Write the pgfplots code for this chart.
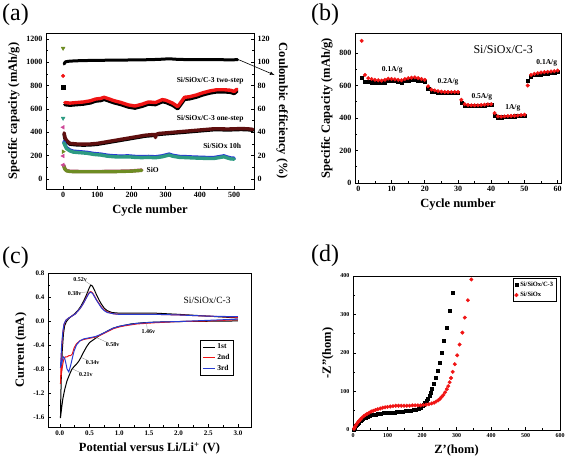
\documentclass[border=0pt]{standalone}
\usepackage{fontspec}
\setmainfont{Liberation Serif}
\usepackage{pgfplots}
\pgfplotsset{compat=1.18}
\definecolor{cred}{RGB}{240,20,20}
\definecolor{cmaroon}{RGB}{95,15,15}
\definecolor{cteal}{RGB}{45,155,130}
\definecolor{colive}{RGB}{110,140,35}
\definecolor{cpink}{RGB}{205,70,150}
\definecolor{cblue}{RGB}{40,60,210}
\pgfplotsset{
  base/.style={scale only axis, anchor=south west,
    axis line style={line width=0.8pt}, tick align=inside,
    major tick length=3pt, minor tick length=1.6pt,
    every tick/.style={black, line width=0.6pt},
    tick label style={font=\bfseries\fontsize{8}{9}\selectfont},
    label style={font=\bfseries\fontsize{12.5}{14}\selectfont},
    /pgf/number format/assume math mode=true,
    /pgf/number format/1000 sep={}, scaled ticks=false,
    xtick pos=bottom, ytick pos=left},
  band/.style={line width=3.4pt, line cap=round, line join=round}
}
\begin{document}
\begin{tikzpicture}[x=1pt,y=1pt]
\useasboundingbox (0pt,0pt) rectangle (567pt,461pt);
% panel labels
\node[anchor=base west, inner sep=0, font=\fontsize{24}{26}\selectfont] at (2pt,440pt) {(a)};
\node[anchor=base west, inner sep=0, font=\fontsize{24}{26}\selectfont] at (311pt,440pt) {(b)};
\node[anchor=base west, inner sep=0, font=\fontsize{24}{26}\selectfont] at (2pt,198pt) {(c)};
\node[anchor=base west, inner sep=0, font=\fontsize{24}{26}\selectfont] at (311pt,200pt) {(d)};

% ---------------- (a) ----------------
\begin{axis}[base, at={(46pt,272pt)}, width=208pt, height=156pt,
  xmin=-50, xmax=558, ymin=-86, ymax=1251,
  xtick={0,100,...,500}, ytick={0,200,...,1200},
  minor x tick num=1, minor y tick num=1,
  xlabel={Cycle number}, ylabel={Specific capacity (mAh/g)}, clip=false]
% two-step: black under red
\addplot[black, band] coordinates {(5,637) (20,632) (40,637) (60,642) (80,652) (95,667) (110,672) (120,682) (130,672) (150,652) (170,637) (190,617) (210,607) (230,622) (250,642) (270,637) (290,662) (300,657) (320,632) (335,602) (345,642) (355,682) (370,687) (390,702) (410,722) (430,737) (450,747) (470,747) (490,742) (500,732) (508,752)};
\addplot[cred, band] coordinates {(5,655) (20,650) (40,655) (60,660) (80,670) (95,685) (110,690) (120,700) (130,690) (150,670) (170,655) (190,635) (210,625) (230,640) (250,660) (270,655) (290,680) (300,675) (320,650) (335,620) (345,660) (355,700) (370,705) (390,720) (410,740) (430,755) (450,765) (470,765) (490,760) (500,750) (508,770)};
% one-step: black under maroon
\addplot[black, band] coordinates {(3,385) (5,350) (10,322) (20,298) (40,292) (60,290) (80,292) (100,297) (120,307) (140,317) (160,327) (180,337) (200,347) (220,357) (240,367) (260,372) (280,382) (300,387) (320,392) (340,397) (360,402) (380,407) (400,412) (420,417) (440,422) (460,422) (480,420) (500,422) (520,424) (540,422) (555,417)};
\addplot[cmaroon, band] coordinates {(3,395) (5,360) (10,330) (20,305) (40,300) (60,298) (80,300) (100,305) (120,315) (140,325) (160,335) (180,345) (200,355) (220,365) (240,375) (260,380) (268,380) (270,355) (272,382) (280,390) (300,395) (320,400) (340,405) (360,410) (380,415) (400,420) (420,425) (440,430) (460,430) (480,428) (500,430) (520,432) (540,430) (555,425)};
% 10h: blue under teal
\addplot[cblue, band] coordinates {(2,320) (5,298) (10,268) (20,248) (30,238) (50,233) (70,228) (90,218) (110,213) (130,203) (150,198) (170,196) (190,198) (210,193) (230,191) (250,193) (270,190) (290,198) (310,213) (320,203) (340,193) (360,191) (380,188) (400,186) (420,184) (440,183) (460,193) (470,198) (480,188) (490,180) (500,178)};
\addplot[cteal, band] coordinates {(2,310) (5,290) (10,260) (20,240) (30,230) (50,225) (70,220) (90,210) (110,205) (130,195) (150,190) (170,188) (190,190) (210,185) (230,183) (250,185) (270,182) (290,190) (310,205) (320,195) (340,185) (360,183) (380,180) (400,178) (420,176) (440,175) (460,185) (470,190) (480,180) (490,172) (500,170)};
% SiO: pink under olive
\addplot[cpink, band] coordinates {(2,118) (5,90) (10,72) (20,66) (50,64) (100,64) (150,65) (200,69) (230,76)};
\addplot[colive, band] coordinates {(2,110) (5,85) (10,70) (20,64) (50,62) (100,62) (150,63) (200,67) (230,74)};
% first-cycle points
\addplot[only marks, mark=triangle*, mark options={rotate=180, fill=colive, draw=colive}, mark size=2.2pt] coordinates {(0,1120)};
\addplot[only marks, mark=*, mark options={fill=cred, draw=cred}, mark size=1.8pt] coordinates {(0,883)};
\addplot[only marks, mark=square*, mark options={fill=black}, mark size=1.6pt] coordinates {(0,786)};
\addplot[only marks, mark=triangle*, mark options={rotate=180, fill=cteal, draw=cteal}, mark size=2.2pt] coordinates {(0,520)};
\addplot[only marks, mark=triangle*, mark options={rotate=90, fill=cpink, draw=cpink}, mark size=2.2pt] coordinates {(0,443) (0,197) (0,120)};
\addplot[only marks, mark=triangle*, mark options={rotate=-90, fill=colive, draw=colive}, mark size=2.2pt] coordinates {(0,234)};
\node[font=\bfseries\fontsize{7.5}{8}\selectfont] at (axis cs:430,840) {Si/SiOx/C-3 two-step};
\node[font=\bfseries\fontsize{7.5}{8}\selectfont] at (axis cs:430,514) {Si/SiOx/C-3 one-step};
\node[font=\bfseries\fontsize{7.5}{8}\selectfont] at (axis cs:465,283) {Si/SiOx 10h};
\node[font=\bfseries\fontsize{7.5}{8}\selectfont] at (axis cs:262,77) {SiO};
\draw[-latex, line width=0.6pt] (axis cs:515,1020) -- (axis cs:618,891);
\end{axis}
\begin{axis}[base, at={(46pt,272pt)}, width=208pt, height=156pt,
  xmin=-50, xmax=558, ymin=-8.6, ymax=125.1,
  axis x line=none, axis y line*=right, ytick pos=right,
  ytick={0,20,...,120}, minor y tick num=1,
  ylabel={Coulombic efficiency (\%)}, ylabel style={rotate=180}]
\addplot[black, band, line width=3pt] coordinates {(3,98.5) (5,99.8) (8,100.5) (20,101) (50,101.4) (100,101.7) (150,101.8) (200,102) (250,102.2) (280,102.5) (310,103) (330,102.6) (360,102.3) (400,102.3) (450,102.3) (480,102.1) (510,102.2)};
\end{axis}

% ---------------- (b) ----------------
\begin{axis}[base, at={(355pt,278pt)}, width=206pt, height=150pt,
  xmin=-1, xmax=61, ymin=0, ymax=923,
  xtick={0,10,...,60}, ytick={0,200,...,800},
  minor x tick num=1, minor y tick num=1,
  xlabel={Cycle number}, ylabel={Specific Capacity (mAh/g)}]
\addplot[only marks, mark=square*, mark size=1.6pt, black] coordinates {
(1,650) (2,625) (3,622) (4,620) (5,618) (6,617) (7,617) (8,620) (9,628) (10,630)
(11,628) (12,625) (13,620) (14,628) (15,632) (16,635) (17,636) (18,633) (19,630) (20,625)
(21,578) (22,565) (23,560) (24,557) (25,555) (26,555) (27,555) (28,555) (29,555) (30,555)
(31,492) (32,478) (33,475) (34,474) (35,474) (36,475) (37,476) (38,478) (39,480) (40,480)
(41,415) (42,405) (43,405) (44,407) (45,408) (46,410) (47,411) (48,412) (49,414) (50,415)
(51,630) (52,655) (53,665) (54,668) (55,670) (56,673) (57,676) (58,678) (59,680) (60,683)};
\addplot[only marks, mark=*, mark size=1.8pt, cred] coordinates {
(1,875) (2,665) (3,645) (4,640) (5,635) (6,632) (7,630) (8,635) (9,642) (10,640)
(11,638) (12,635) (13,632) (14,640) (15,645) (16,648) (17,650) (18,645) (19,640) (20,635)
(21,595) (22,575) (23,570) (24,565) (25,562) (26,560) (27,560) (28,560) (29,560) (30,560)
(31,512) (32,485) (33,480) (34,478) (35,478) (36,478) (37,480) (38,482) (39,484) (40,485)
(41,430) (42,410) (43,408) (44,410) (45,412) (46,413) (47,414) (48,415) (49,418) (50,420)
(51,600) (52,665) (53,672) (54,676) (55,680) (56,682) (57,684) (58,686) (59,688) (60,692)};
\node[font=\fontsize{12}{13}\selectfont] at (axis cs:43.6,818) {Si/SiOx/C-3};
\node[font=\bfseries\fontsize{7.5}{8}\selectfont] at (axis cs:10.2,695) {0.1A/g};
\node[font=\bfseries\fontsize{7.5}{8}\selectfont] at (axis cs:27,622) {0.2A/g};
\node[font=\bfseries\fontsize{7.5}{8}\selectfont] at (axis cs:37.2,529) {0.5A/g};
\node[font=\bfseries\fontsize{7.5}{8}\selectfont] at (axis cs:46.5,462) {1A/g};
\node[font=\bfseries\fontsize{7.5}{8}\selectfont] at (axis cs:56.7,738) {0.1A/g};
\end{axis}

% ---------------- (c) ----------------
\begin{axis}[base, at={(48pt,34pt)}, width=203pt, height=154pt,
  xmin=-0.2, xmax=3.22, ymin=-1.77, ymax=0.8,
  xtick={0,0.5,...,3.0}, ytick={-1.6,-1.2,-0.8,-0.4,0,0.4,0.8},
  minor x tick num=1, minor y tick num=1,
  tick label style={font=\bfseries\fontsize{7}{8}\selectfont},
  xticklabel style={/pgf/number format/.cd, fixed, fixed zerofill, precision=1},
  yticklabel style={/pgf/number format/.cd, fixed, fixed zerofill, precision=1},
  xlabel={Potential versus Li/Li\textsuperscript{+} (V)}, ylabel={Current (mA)},
  legend style={at={(0.75,0.565)}, anchor=north west, draw=black, line width=0.8pt,
    font=\bfseries\fontsize{7.5}{8}\selectfont, inner sep=1.5pt, row sep=0pt},
  legend cell align=left,
  legend image code/.code={\draw[#1, line width=1.2pt] (0pt,0pt) -- (12pt,0pt);}]
\addplot[black, line width=1pt] coordinates {
(3.0,0.0) (2.5,-0.005) (2.0,-0.01) (1.6,-0.02) (1.4,-0.03) (1.2,-0.05) (1.0,-0.09) (0.9,-0.12) (0.8,-0.17) (0.7,-0.22) (0.6,-0.29) (0.5,-0.36) (0.45,-0.43) (0.4,-0.52) (0.36,-0.6) (0.32,-0.67) (0.28,-0.72) (0.24,-0.76) (0.2,-0.81) (0.16,-0.9) (0.12,-1.0) (0.08,-1.15) (0.05,-1.3) (0.03,-1.45) (0.01,-1.62)
(0.015,-1.3) (0.025,-0.9) (0.04,-0.5) (0.06,-0.22) (0.08,-0.08) (0.11,-0.01) (0.15,0.04) (0.2,0.08) (0.25,0.12) (0.3,0.17) (0.35,0.24) (0.4,0.33) (0.45,0.44) (0.49,0.54) (0.52,0.6) (0.55,0.58) (0.58,0.52) (0.62,0.43) (0.66,0.35) (0.7,0.28) (0.75,0.21) (0.8,0.17) (0.88,0.14) (1.0,0.13) (1.3,0.13) (1.6,0.13) (2.0,0.11) (2.5,0.08) (3.0,0.05)};
\addlegendentry{1st}
\addplot[cred, line width=1pt] coordinates {
(3.0,0.02) (2.5,0.0) (2.0,-0.01) (1.6,-0.03) (1.3,-0.05) (1.1,-0.08) (1.0,-0.1) (0.9,-0.13) (0.8,-0.18) (0.7,-0.23) (0.6,-0.27) (0.5,-0.29) (0.4,-0.31) (0.34,-0.33) (0.28,-0.38) (0.24,-0.45) (0.21,-0.55) (0.18,-0.58) (0.15,-0.58) (0.12,-0.6) (0.09,-0.6) (0.06,-0.66) (0.04,-0.78) (0.02,-0.92) (0.01,-1.05)
(0.02,-0.75) (0.03,-0.45) (0.05,-0.2) (0.07,-0.06) (0.1,0.01) (0.15,0.05) (0.2,0.08) (0.25,0.11) (0.3,0.16) (0.35,0.22) (0.4,0.3) (0.45,0.4) (0.49,0.47) (0.52,0.49) (0.55,0.47) (0.58,0.42) (0.62,0.35) (0.66,0.29) (0.7,0.23) (0.75,0.18) (0.8,0.15) (0.9,0.12) (1.0,0.11) (1.3,0.11) (1.6,0.11) (2.0,0.1) (2.5,0.08) (3.0,0.06)};
\addlegendentry{2nd}
\addplot[cblue, line width=1pt] coordinates {
(3.0,0.03) (2.5,0.01) (2.0,-0.01) (1.6,-0.02) (1.3,-0.04) (1.1,-0.07) (1.0,-0.09) (0.9,-0.12) (0.8,-0.17) (0.7,-0.22) (0.6,-0.26) (0.5,-0.28) (0.4,-0.3) (0.34,-0.33) (0.28,-0.4) (0.24,-0.5) (0.21,-0.62) (0.18,-0.75) (0.15,-0.85) (0.12,-0.8) (0.1,-0.7) (0.08,-0.62) (0.06,-0.6) (0.04,-0.66) (0.02,-0.74) (0.01,-0.78)
(0.02,-0.6) (0.03,-0.4) (0.05,-0.18) (0.07,-0.05) (0.1,0.01) (0.15,0.05) (0.2,0.08) (0.25,0.11) (0.3,0.16) (0.35,0.22) (0.4,0.3) (0.45,0.39) (0.49,0.46) (0.52,0.48) (0.55,0.46) (0.58,0.41) (0.62,0.34) (0.66,0.28) (0.7,0.22) (0.75,0.17) (0.8,0.14) (0.9,0.12) (1.0,0.11) (1.3,0.11) (1.6,0.11) (2.0,0.1) (2.5,0.08) (3.0,0.07)};
\addlegendentry{3rd}
\node[font=\fontsize{9.5}{10}\selectfont] at (axis cs:2.48,0.35) {Si/SiOx/C-3};
\begin{scope}[font=\bfseries\fontsize{6}{7}\selectfont]
\node at (axis cs:0.34,0.69) {0.52v};
\node at (axis cs:0.25,0.46) {0.38v};
\node at (axis cs:1.49,-0.18) {1.46v};
\node at (axis cs:0.89,-0.39) {0.58v};
\node at (axis cs:0.55,-0.69) {0.34v};
\node at (axis cs:0.44,-0.9) {0.21v};
\end{scope}
\draw[gray, line width=0.3pt] (axis cs:0.42,0.67) -- (axis cs:0.51,0.61);
\draw[gray, line width=0.3pt] (axis cs:0.33,0.47) -- (axis cs:0.5,0.49);
\draw[gray, line width=0.3pt] (axis cs:1.47,-0.13) -- (axis cs:1.46,-0.03);
\draw[gray, line width=0.3pt] (axis cs:0.8,-0.36) -- (axis cs:0.6,-0.27);
\draw[gray, line width=0.3pt] (axis cs:0.47,-0.66) -- (axis cs:0.34,-0.6);
\draw[gray, line width=0.3pt] (axis cs:0.36,-0.87) -- (axis cs:0.21,-0.8);
\end{axis}

% ---------------- (d) ----------------
\begin{axis}[base, at={(353pt,31pt)}, width=207pt, height=154pt,
  xmin=0, xmax=600, ymin=0, ymax=400,
  xtick={0,100,...,600}, ytick={0,100,...,400},
  minor x tick num=1, minor y tick num=1,
  tick label style={font=\bfseries\fontsize{6}{7}\selectfont},
  xlabel={Z'(hom)}, ylabel={-Z''(hom)},
  legend style={at={(0.985,0.985)}, anchor=north east, draw=black, line width=0.5pt,
    font=\bfseries\fontsize{6.5}{7.5}\selectfont, inner sep=1.5pt, row sep=0pt},
  legend cell align=left]
\addplot[only marks, mark=square*, mark size=1.5pt, black] coordinates {
(3,2) (5,6) (8,10) (11,14) (14,17) (17,20) (21,23) (25,26) (29,29) (33,31) (38,33) (43,35) (48,37) (54,39) (60,40) (66,41) (73,42) (80,43) (88,44) (96,45) (104,45) (112,46) (120,46) (128,47) (136,47) (144,48) (152,49) (160,50) (168,51) (176,52) (183,54) (190,56) (196,59) (201,62) (205,66) (209,70) (213,75) (217,81) (221,88) (225,96) (229,106) (234,119) (239,136) (245,153) (250,175) (257,200) (264,231) (272,265) (280,309) (288,357)};
\addlegendentry{Si/SiOx/C-3}
\addplot[only marks, mark=*, mark size=1.8pt, cred] coordinates {
(3,3) (5,7) (8,12) (11,16) (14,20) (18,24) (22,28) (26,32) (31,36) (36,39) (41,42) (47,45) (53,48) (59,50) (65,52) (72,54) (79,56) (86,58) (93,59) (100,60) (108,61) (116,62) (124,63) (132,63) (140,63) (148,63) (156,63) (164,63) (172,64) (180,64) (188,64) (196,64) (204,65) (212,66) (220,67) (228,69) (235,71) (241,74) (247,77) (252,81) (257,86) (262,91) (267,98) (272,106) (276,114) (280,124) (284,135) (289,151) (295,171) (302,194) (309,222) (317,253) (324,292) (333,337) (343,391)};
\addlegendentry{Si/SiOx}
\end{axis}
\end{tikzpicture}
\end{document}
